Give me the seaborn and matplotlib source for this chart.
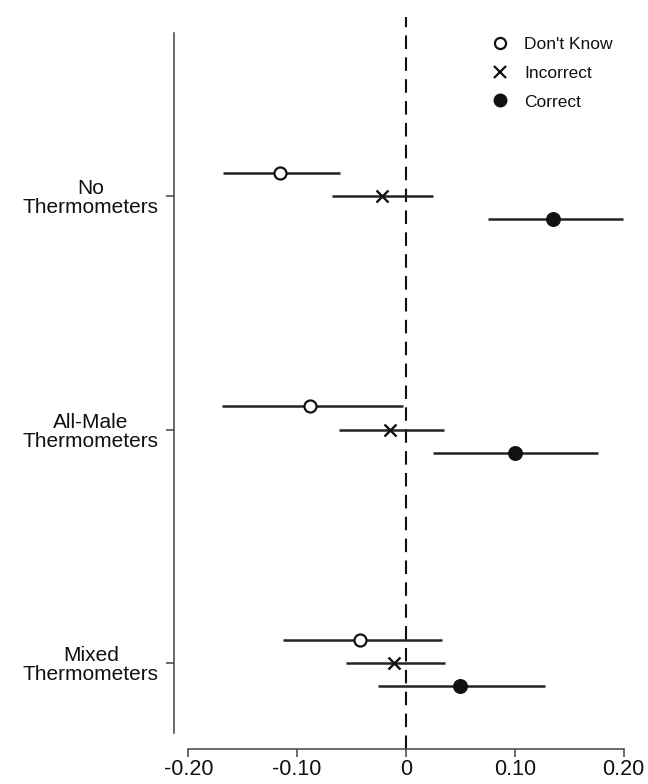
import matplotlib
matplotlib.use("Agg")
import matplotlib.pyplot as plt
import seaborn as sns
import pandas as pd
from matplotlib.lines import Line2D

# ---- data ----
conditions = ["No\nThermometers", "All-Male\nThermometers", "Mixed\nThermometers"]
groups = ["Don't Know", "Incorrect", "Correct"]

dk_est = [-0.116, -0.088, -0.042]
dk_lo = [-0.168, -0.169, -0.113]
dk_hi = [-0.061, -0.003, 0.033]

inc_est = [-0.022, -0.015, -0.011]
inc_lo = [-0.068, -0.062, -0.055]
inc_hi = [0.025, 0.035, 0.036]

cor_est = [0.135, 0.100, 0.050]
cor_lo = [0.075, 0.025, -0.026]
cor_hi = [0.199, 0.176, 0.128]

xticks = [-0.20, -0.10, 0.0, 0.10, 0.20]
xticklabels = ["-0.20", "-0.10", "0", "0.10", "0.20"]

# ---- build table ----
cond_pos = {c: 3 - i for i, c in enumerate(conditions)}
grp_off = {"Don't Know": 0.1, "Incorrect": 0.0, "Correct": -0.1}
rows = []
for g, est, lo, hi in [("Don't Know", dk_est, dk_lo, dk_hi),
                       ("Incorrect", inc_est, inc_lo, inc_hi),
                       ("Correct", cor_est, cor_lo, cor_hi)]:
    for c, e, l, h in zip(conditions, est, lo, hi):
        rows.append(dict(condition=c, group=g, est=e, lo=l, hi=h,
                         y=cond_pos[c] + grp_off[g]))
df = pd.DataFrame(rows)

sns.set_style("white")
plt.rcParams["font.family"] = ["Liberation Sans", "DejaVu Sans"]

fig = plt.figure(figsize=(6.48, 7.84), dpi=100)
W, H = 648, 784
ax = fig.add_axes([174 / W, 1 - 749 / H, (638 - 174) / W, (749 - 17) / H])

ink = "#111111"
# zero reference line
ax.axvline(0, color=ink, lw=1.5, linestyle=(0, (6.5, 4)), zorder=1)

# confidence intervals
ax.hlines(df["y"], df["lo"], df["hi"], color="#222222", lw=1.8, zorder=2)

styles = {
    "Don't Know": dict(marker="o", facecolor="white", edgecolor=ink, linewidth=1.6, s=75),
    "Incorrect": dict(marker="x", color=ink, linewidth=1.7, s=75),
    "Correct": dict(marker="o", facecolor=ink, edgecolor=ink, linewidth=1.0, s=95),
}
for g in groups:
    sub = df[df["group"] == g]
    sns.scatterplot(data=sub, x="est", y="y", ax=ax, zorder=3, legend=False, **styles[g])

ax.set_xlim(-0.2131, 0.2131)
ax.set_ylim(0.632, 3.767)
ax.set_xlabel("")
ax.set_ylabel("")

ax.set_xticks(xticks)
ax.set_xticklabels(xticklabels, fontsize=15.5)
ax.set_yticks([cond_pos[c] for c in conditions])
ax.set_yticklabels(conditions, fontsize=15, multialignment="center", linespacing=1.0)

for s in ["top", "right"]:
    ax.spines[s].set_visible(False)
ax.spines["bottom"].set_bounds(-0.2, 0.2)
ax.spines["left"].set_bounds(0.7, 3.7)
for s in ["bottom", "left"]:
    ax.spines[s].set_color("#444444")
    ax.spines[s].set_linewidth(1.1)

ax.tick_params(axis="x", direction="out", length=6, width=1.1, color="#444444",
               pad=1, bottom=True, labelcolor=ink)
ax.tick_params(axis="y", direction="out", length=6, width=1.1, color="#444444",
               pad=5, left=True, labelcolor=ink)

handles = [
    Line2D([], [], marker="o", linestyle="none", markerfacecolor="white",
           markeredgecolor=ink, markeredgewidth=1.6, markersize=8),
    Line2D([], [], marker="x", linestyle="none", color=ink,
           markeredgewidth=1.6, markersize=8),
    Line2D([], [], marker="o", linestyle="none", markerfacecolor=ink,
           markeredgecolor=ink, markersize=9),
]
leg = fig.legend(handles, groups, loc="upper left",
                 bbox_to_anchor=(491 / W, 1 - 37 / H), frameon=False,
                 fontsize=12.5, handlelength=1.0, handletextpad=0.9,
                 labelspacing=0.78, borderpad=0, borderaxespad=0)
for t in leg.get_texts():
    t.set_color(ink)

fig.savefig("out.png", dpi=100)
